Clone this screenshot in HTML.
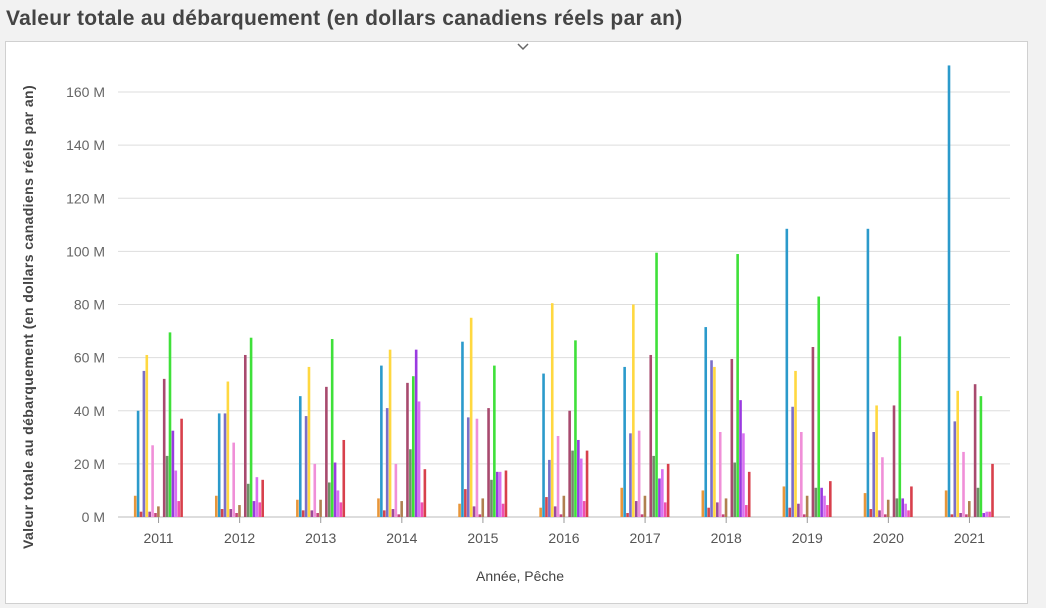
<!DOCTYPE html>
<html><head><meta charset="utf-8"><style>
body{margin:0;width:1046px;height:608px;background:#f2f2f2;font-family:"Liberation Sans",sans-serif;overflow:hidden;position:relative}
#title{position:absolute;left:6px;top:7px;font-size:21px;font-weight:bold;letter-spacing:0.3px;color:#444;white-space:nowrap}
#card{position:absolute;left:5px;top:41px;width:1021px;height:561px;background:#fff;border:1px solid #d0d0d0}
svg{position:absolute;left:0;top:0}
</style></head><body>
<div id="title">Valeur totale au débarquement (en dollars canadiens réels par an)</div>
<div id="card"></div>
<svg id="chart" width="1046" height="608"></svg>
<script>
const years=["2011","2012","2013","2014","2015","2016","2017","2018","2019","2020","2021"];
const colors=["#E8963A","#2B9ACB","#D0464F","#7B6FC8","#FFD840","#9B4A9B","#F08FD8","#C4457A","#B08050","#888888","#A84A6E","#6E8E68","#3FE03A","#9A3AE0","#D870F0","#F050B0","#D8404C"];
const s0=[8,8,6.5,7,5,3.5,11,10,11.5,9,10];
const s1=[40,39,45.5,57,66,54,56.5,71.5,108.5,108.5,170];
const s2=[2,3,2.5,2.5,10.5,7.5,1.5,3.5,3.5,3,1];
const s3=[55,39,38,41,37.5,21.5,31.5,59,41.5,32,36];
const s4=[61,51,56.5,63,75,80.5,80,56.5,55,42,47.5];
const s5=[2,3,2.5,3,4,4,6,5.5,5,2.5,1.5];
const s6=[27,28,20,20,37,30.5,32.5,32,32,22.5,24.5];
const s7=[1.5,1.5,1.5,1,1,1,1,1,1,1,1];
const s8=[4,4.5,6.5,6,7,8,8,7,8,6.5,6];
const s9=[0,0,0,0,0,0,0,0,0,0,0];
const s10=[52,61,49,50.5,41,40,61,59.5,64,42,50];
const s11=[23,12.5,13,25.5,14,25,23,20.5,11,7,11];
const s12=[69.5,67.5,67,53,57,66.5,99.5,99,83,68,45.5];
const s13=[32.5,6,20.5,63,17,29,14.5,44,11,7,1.5];
const s14=[17.5,15,10,43.5,17,22,18,31.5,8,5,2];
const s15=[6,5.5,5.5,5.5,5,6,5.5,4.5,4.5,2.5,2];
const s16=[37,14,29,18,17.5,25,20,17,13.5,11.5,20];
const series=[s0,s1,s2,s3,s4,s5,s6,s7,s8,s9,s10,s11,s12,s13,s14,s15,s16];
const yTicks=[0,20,40,60,80,100,120,140,160];
const NS="http://www.w3.org/2000/svg";
const svg=document.getElementById('chart');
const x0=118,x1=1010,y0=517,pxPerM=425/160;
const band=(x1-x0)/years.length, slot=2.9;
const y=v=>y0-v*pxPerM;
const bx=(g,s)=>x0+g*band+band/2-series.length*slot/2+s*slot;
function mk(t,a){const e=document.createElementNS(NS,t);for(const k in a)e.setAttribute(k,a[k]);svg.appendChild(e);return e;}
yTicks.forEach(v=>{
 const l=mk('line',{x1:x0,x2:x1,y1:y(v),y2:y(v),stroke:v===0?'#bbb':'#ddd','stroke-width':1});
 
 
 const t=mk('text',{x:105,y:y(v)+5,'text-anchor':'end','font-size':14,fill:'#666'});
 t.textContent=v+' M';
 
 
});
years.forEach((yr,g)=>{
 const cx=x0+g*band+band/2;
 const tk=mk('line',{x1:cx,x2:cx,y1:y0,y2:y0+6,stroke:'#999'});
 
 
 const t=mk('text',{x:cx,y:543,'text-anchor':'middle','font-size':14,fill:'#555'});
 t.textContent=yr;
 
 
 series.forEach((s,i)=>{
  const v=s[g]; if(v<=0)return;
  const r=mk('rect',{x:bx(g,i),y:y(v),width:2.6,height:v*pxPerM,fill:colors[i]});
  
  
 });
});
const xt=mk('text',{x:520,y:581,'text-anchor':'middle','font-size':14,fill:'#444'});
xt.textContent='Année, Pêche';


const yt=mk('text',{x:0,y:0,'text-anchor':'middle','font-size':14,'font-weight':'bold','letter-spacing':'0.4',fill:'#444',transform:'translate(33,317) rotate(-90)'});
yt.textContent='Valeur totale au débarquement (en dollars canadiens réels par an)';


const ch=mk('path',{d:'M518 44 L523 49 L528 44',fill:'none',stroke:'#666','stroke-width':1.5});


</script>
</body></html>
